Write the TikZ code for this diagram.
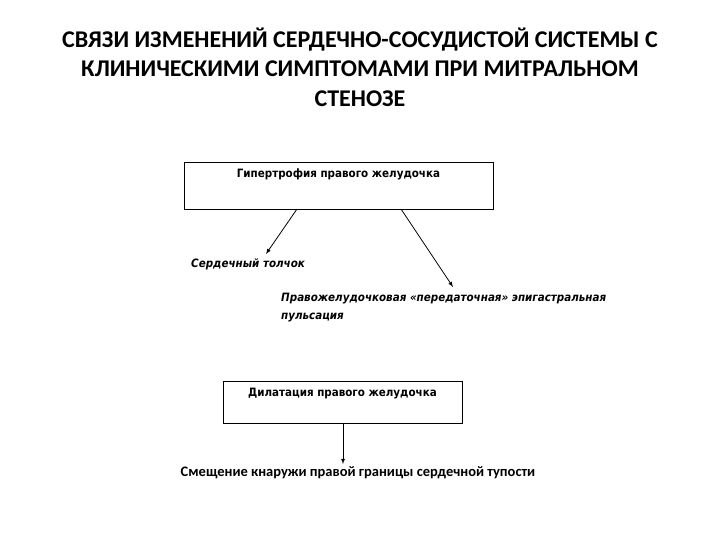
\documentclass[tikz,border=0pt]{standalone}
\usepackage{fontspec}
\setmainfont{Carlito}
\newfontfamily\tah{DejaVu Sans Condensed}
\begin{document}
\begin{tikzpicture}[x=1pt,y=-1pt,
 box/.style={draw,thick,inner sep=0},
 lab/.style={inner sep=0,font=\tah\bfseries\fontsize{11.5}{14}\selectfont},
 arr/.style={draw,thick,-latex}]
\useasboundingbox (0,0) rectangle (720,540);
\node[font=\bfseries\fontsize{24}{29.5}\selectfont,align=center] (title) at (360,67) {СВЯЗИ ИЗМЕНЕНИЙ СЕРДЕЧНО-СОСУДИСТОЙ СИСТЕМЫ С\\КЛИНИЧЕСКИМИ СИМПТОМАМИ ПРИ МИТРАЛЬНОМ\\СТЕНОЗЕ};
\node[box,minimum width=309,minimum height=47] (b1) at (338.5,185.5) {};
\node[lab] (t1) at (338.5,174) {Гипертрофия правого желудочка};
\node[lab,anchor=west,font=\tah\bfseries\itshape\fontsize{11.5}{14}\selectfont] (s1) at (191,264) {Сердечный толчок};
\node[lab,anchor=north west,align=left,font=\tah\bfseries\itshape\fontsize{11.5}{18}\selectfont] (s2) at (281,293) {Правожелудочковая «передаточная» эпигастральная\\пульсация};
\coordinate (a1) at (297,209); \coordinate (e1) at (266,254);
\coordinate (a2) at (401,209); \coordinate (e2) at (453,287);
\draw[arr] (a1) -- (e1);
\draw[arr] (a2) -- (e2);
\node[box,minimum width=239,minimum height=42] (b2) at (342.5,402) {};
\node[lab] (t2) at (342.5,394) {Дилатация правого желудочка};
\node[inner sep=0,font=\bfseries\fontsize{14.5}{16}\selectfont] (s3) at (358,473) {Смещение кнаружи правой границы сердечной тупости};
\coordinate (a3) at (343,423);
\draw[arr] (a3) -- (343,464);
\end{tikzpicture}
\end{document}
